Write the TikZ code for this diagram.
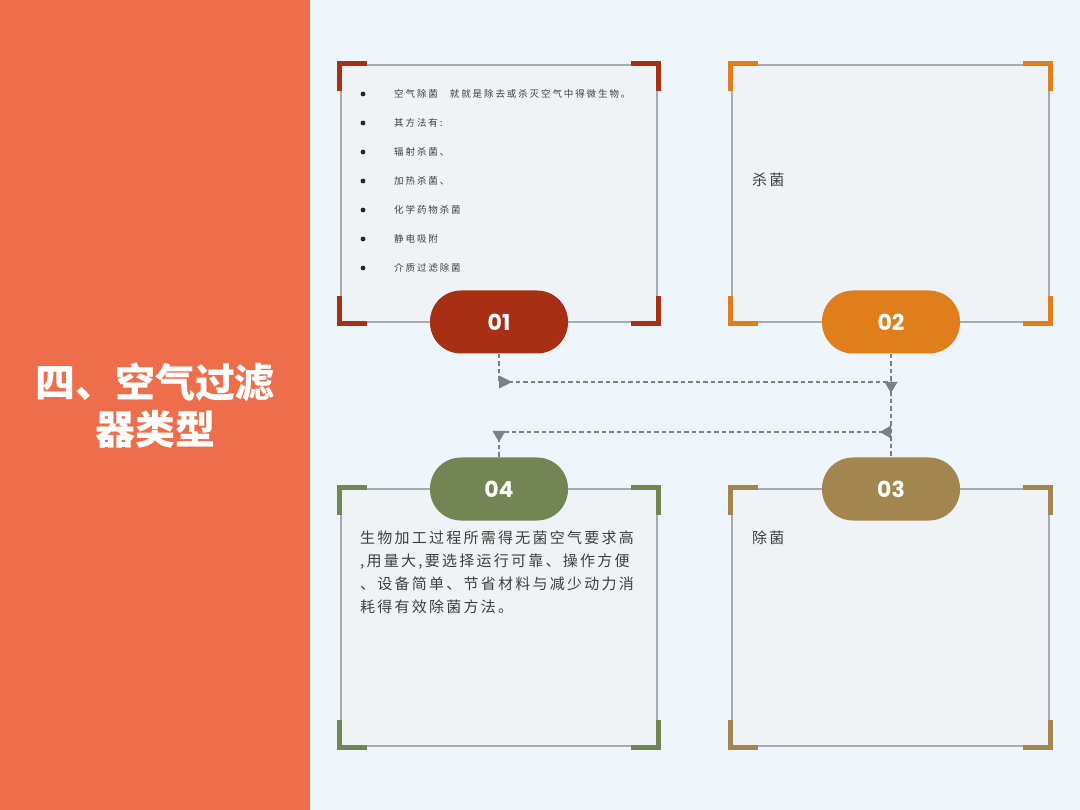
\documentclass[tikz,border=0pt]{standalone}
\usepackage{fontspec}
\setmainfont{Noto Sans CJK SC}
\newfontfamily\cjk{Noto Sans CJK SC}
\newfontfamily\cjksmall[LetterSpace=20]{Noto Sans CJK SC}
\newfontfamily\cjkbody[LetterSpace=15]{Noto Sans CJK SC}
\newfontfamily\numfont{Poppins}
\definecolor{panel}{HTML}{EE6E4B}
\definecolor{bg}{HTML}{EEF6FC}
\definecolor{boxfill}{HTML}{EFF3F6}
\definecolor{boxline}{HTML}{A7ABB1}
\definecolor{cA}{HTML}{A62F14}
\definecolor{cB}{HTML}{E07E1C}
\definecolor{cC}{HTML}{A3854F}
\definecolor{cD}{HTML}{728553}
\definecolor{connc}{HTML}{7E8084}
\definecolor{txt}{HTML}{3F3F3F}
\tikzset{
  boxstyle/.style={draw=boxline, fill=boxfill, line width=1.8pt},
  bracket/.style={line width=5pt, miter limit=10},
  pill/.style={rectangle, rounded corners=31pt, minimum width=138pt, minimum height=63pt, inner sep=0pt, text=white, font=\numfont\bfseries\fontsize{22}{26}\selectfont},
  conn/.style={draw=connc, line width=1.3pt, dash pattern=on 4.5pt off 3pt},
  tipmark/.style={fill=connc},
  smalltext/.style={anchor=west, inner sep=0pt, text=txt, font=\cjksmall\fontsize{9.5}{11}\selectfont},
  bodytext/.style={inner sep=0pt, text=txt, font=\cjkbody\fontsize{15}{23}\selectfont},
  bulletdot/.style={fill=black!85},
}
\newcommand{\cardbox}[5]{%
  \draw[boxstyle] (#1,#2) rectangle (#3,#4);
  \draw[bracket,#5] ({#1-1.5},{#2+26}) -- ({#1-1.5},{#2-1.5}) -- ({#1+26},{#2-1.5});
  \draw[bracket,#5] ({#3-26},{#2-1.5}) -- ({#3+1.5},{#2-1.5}) -- ({#3+1.5},{#2+26});
  \draw[bracket,#5] ({#1-1.5},{#4-26}) -- ({#1-1.5},{#4+1.5}) -- ({#1+26},{#4+1.5});
  \draw[bracket,#5] ({#3-26},{#4+1.5}) -- ({#3+1.5},{#4+1.5}) -- ({#3+1.5},{#4-26});
}
\begin{document}
\begin{tikzpicture}[x=1pt,y=-1pt]
\useasboundingbox (0,0) rectangle (1080,810);
\fill[bg] (0,0) rectangle (1080,810);
\fill[panel] (0,0) rectangle (310,810);
\node[text=white, align=center, font=\cjk\bfseries\fontsize{40}{47}\selectfont] (title) at (155,406) {四、空气过滤\\器类型};

% cards
\cardbox{341}{65}{657}{322}{cA}
\cardbox{732}{65}{1049}{322}{cB}
\cardbox{341}{489}{657}{746}{cD}
\cardbox{732}{489}{1049}{746}{cC}

% card 1 text
\foreach \yy/\tt [count=\i] in {94/{空气除菌\hspace{12pt}就就是除去或杀灭空气中得微生物。},123/{其方法有:},152/{辐射杀菌、},181/{加热杀菌、},210/{化学药物杀菌},239/{静电吸附},268/{介质过滤除菌}}{
  \fill[bulletdot] (363,\yy) circle (2.4);
  \node[smalltext] (t1\i) at (394,\yy) {\tt};
}

% card 2 / 3 text
\node[bodytext, anchor=west] (t2) at (752,180) {杀菌};
\node[bodytext, anchor=west] (t3) at (752,538) {除菌};

% card 4 text
\node[bodytext, anchor=north west, align=left] (t4) at (360,531) {生物加工过程所需得无菌空气要求高\\,用量大,要选择运行可靠、操作方便\\、设备简单、节省材料与减少动力消\\耗得有效除菌方法。};

% pills
\node[pill, fill=cA] (p1) at (499,322) {01};
\node[pill, fill=cB] (p2) at (891,322) {02};
\node[pill, fill=cC] (p3) at (891,489) {03};
\node[pill, fill=cD] (p4) at (499,489) {04};

% connectors
\coordinate (k1) at (499,382);
\coordinate (k2) at (891,382);
\coordinate (k3) at (891,432);
\coordinate (k4) at (499,432);
\draw[conn] (p1.south) |- (k2);
\draw[conn] (p2.south) -- (p3.north);
\draw[conn] (k3) -| (p4.north);
\fill[tipmark] (k1) ++(0,-6.5) -- ++(13,6.5) -- ++(-13,6.5) -- cycle;
\fill[tipmark] (k2) ++(-6.5,0) -- ++(6.5,11) -- ++(6.5,-11) -- cycle;
\fill[tipmark] (k3) ++(0,-6.5) -- ++(-11,6.5) -- ++(11,6.5) -- cycle;
\fill[tipmark] (k4) ++(-6.5,-1) -- ++(6.5,11) -- ++(6.5,-11) -- cycle;
\end{tikzpicture}
\end{document}
